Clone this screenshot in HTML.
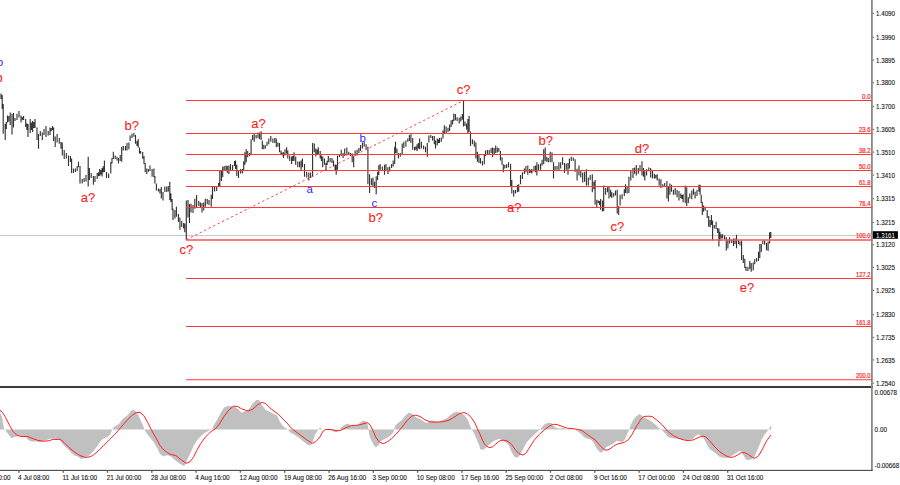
<!DOCTYPE html>
<html lang="en"><head><meta charset="utf-8"><title>GBP/USD wave analysis chart</title>
<style>html,body{margin:0;padding:0;background:#fff}body{width:900px;height:485px;overflow:hidden}</style></head>
<body>
<svg width="900" height="485" viewBox="0 0 900 485" style="display:block" font-family="'Liberation Sans', sans-serif">
<rect width="900" height="485" fill="#fff"/>
<rect x="0" y="386.0" width="873.0" height="2" fill="#3c3c3c"/>
<rect x="871.0" y="0" width="1.8" height="470.0" fill="#8a8a8a"/>
<line x1="0" y1="235.5" x2="872.0" y2="235.5" stroke="#c8c8c8" stroke-width="1"/>
<path d="M1.0 93.5V99.0M2.2 95.0V109.0M3.2 104.0V133.7M5.2 123.7V140.0M6.3 122.0V128.9M7.5 115.6V122.5M8.8 116.0V121.8M10.2 112.5V125.0M12.0 113.7V134.4M13.5 113.0V127.5M15.0 118.0V121.0M17.0 113.7V120.0M19.0 111.0V117.5M21.0 115.6V122.5M22.3 116.9V120.2M23.6 116.0V120.0M25.7 119.0V127.0M26.9 123.6V129.9M28.0 124.0V137.0M30.2 119.0V133.0M31.4 122.5V130.0M32.6 121.0V132.0M33.8 122.0V128.0M35.0 119.0V128.0M37.0 127.5V140.0M38.5 134.0V148.7M40.3 131.0V136.0M42.3 132.5V140.0M44.0 129.0V135.0M46.0 126.0V137.0M48.2 131.0V135.6M50.0 127.5V135.0M51.2 127.9V131.3M52.5 126.0V130.0M53.6 127.5V141.0M55.2 136.5V147.0M57.1 134.0V142.5M59.3 138.0V143.7M61.0 142.0V148.7M62.3 142.5V155.5M64.2 150.0V159.0M66.3 153.0V158.6M68.5 155.5V166.0M70.4 156.0V162.0M71.6 158.6V173.0M73.5 168.5V173.0M75.4 168.5V172.0M77.2 166.0V171.0M78.5 161.7V167.3M80.0 166.0V183.5M82.2 179.0V183.5M84.1 178.0V182.0M86.0 175.0V181.6M88.2 156.7V186.6M89.4 168.0V180.0M91.2 173.0V178.0M93.4 176.0V184.7M95.0 176.0V182.0M97.2 173.0V179.0M98.5 172.3V176.2M99.7 169.0V176.0M100.9 170.1V174.7M102.1 168.0V176.6M103.2 166.3V172.3M104.4 160.5V172.0M106.5 172.0V178.0M108.6 173.5V178.0M110.8 162.0V173.5M112.0 158.0V163.6M113.3 151.8V159.0M115.2 155.5V159.0M117.0 156.7V160.5M118.5 158.0V163.6M120.2 155.0V161.0M121.7 146.8V161.7M123.3 146.0V150.5M125.5 146.0V150.5M127.0 143.0V150.5M128.9 142.4V149.3M130.1 135.6V141.0M132.0 133.7V138.0M133.9 133.0V136.8M135.5 135.0V143.7M137.0 141.0V146.0M138.2 139.0V147.4M139.5 147.4V153.6M140.6 151.0V153.7M142.7 152.0V158.7M144.0 156.0V164.0M145.2 163.0V172.3M146.8 168.6V174.0M148.4 169.0V171.7M150.0 165.5V171.0M152.1 169.0V176.7M153.9 168.6V177.3M154.9 176.0V183.5M156.4 183.5V190.4M158.4 188.5V191.6M159.9 189.0V193.5M161.3 187.0V198.5M163.0 192.0V200.6M164.8 186.6V192.0M166.7 186.6V192.0M168.3 186.0V191.6M169.8 181.7V200.0M170.9 193.3V202.1M172.1 199.0V210.0M173.0 208.7V220.0M174.9 210.0V218.6M176.4 206.8V216.7M178.4 214.0V222.0M179.9 217.4V229.8M181.7 221.0V227.0M183.6 223.0V228.6M184.8 223.6V232.3M186.3 200.6V239.7M188.0 200.0V217.4M189.5 204.0V223.0M191.0 203.7V212.4M193.0 205.0V213.0M194.8 198.7V208.7M196.6 195.0V207.4M198.8 201.0V206.0M200.4 202.4V207.4M202.0 203.0V212.4M203.7 202.4V210.5M205.3 198.7V206.8M207.2 199.0V204.3M209.0 200.0V205.0M211.2 194.7V206.8M212.5 187.0V199.0M214.6 186.0V191.6M216.7 186.6V191.0M218.6 183.0V187.0M219.8 170.5V186.6M221.4 170.0V181.0M222.7 166.7V177.3M224.2 166.0V170.5M226.0 165.5V170.5M227.3 166.0V173.0M228.9 165.5V174.0M230.5 164.0V171.0M232.6 165.0V170.5M234.5 161.0V166.0M235.6 160.4V169.0M236.8 164.7V176.0M238.5 171.0V178.0M240.6 169.0V173.5M242.4 169.0V173.5M243.7 161.6V171.0M244.9 152.3V164.7M246.2 149.2V162.3M247.7 151.0V157.3M249.6 153.0V156.0M251.1 139.2V154.8M252.6 135.0V140.0M254.2 133.0V141.7M256.1 135.0V138.6M258.0 132.4V138.0M259.6 132.4V139.2M261.1 131.2V139.9M262.3 140.5V149.2M263.8 144.8V149.2M265.4 145.5V148.6M267.0 141.7V146.0M268.8 138.6V144.2M270.8 136.0V141.7M272.9 138.6V143.0M274.8 138.0V143.0M276.3 138.6V147.3M277.9 142.4V146.7M279.5 143.0V152.3M281.0 150.4V154.8M282.2 152.4V155.4M283.5 152.3V158.0M285.0 149.2V155.4M286.6 147.3V153.5M287.8 150.4V158.5M289.7 155.4V161.0M291.6 156.6V164.0M292.8 156.1V160.9M294.0 152.3V161.0M295.7 156.6V164.7M297.8 161.6V167.2M299.6 161.6V167.2M301.1 160.4V170.3M302.4 158.5V167.2M304.5 164.0V176.8M306.7 171.8V177.4M308.8 172.4V180.5M310.6 172.4V178.0M312.6 143.0V176.8M314.3 143.6V152.3M315.8 148.6V156.6M317.1 149.5V154.1M318.3 147.3V154.8M320.2 151.0V158.5M321.4 155.6V161.0M322.7 156.6V167.2M324.5 158.5V164.7M326.0 162.9V170.5M327.1 160.8V165.0M328.3 156.0V162.3M330.1 157.9V162.3M332.0 157.9V163.0M333.5 160.4V166.6M335.1 164.7V170.3M336.2 164.8V174.7M337.5 155.4V169.8M339.4 154.2V157.3M341.2 149.8V156.0M343.1 153.0V158.0M344.7 148.6V156.0M346.8 147.4V155.4M348.7 151.7V154.8M350.5 153.0V156.0M352.2 153.6V162.3M353.7 156.0V167.3M355.1 150.5V156.0M357.1 149.8V155.4M358.9 148.0V153.0M360.5 144.9V151.0M362.4 142.4V148.6M364.2 141.8V146.7M366.1 144.2V149.2M367.9 146.7V184.2M369.6 174.3V193.0M371.5 178.6V185.0M373.0 177.4V186.7M374.6 181.8V188.0M376.2 176.2V194.2M377.6 171.8V180.0M378.8 165.2V175.0M380.2 164.0V169.8M382.3 166.6V171.0M384.5 164.8V174.7M386.0 164.0V171.0M387.9 167.3V174.0M389.7 166.6V171.6M391.6 164.0V167.9M393.2 160.4V166.6M394.7 146.7V164.0M395.5 141.8V153.0M396.9 148.6V153.6M398.4 153.0V158.6M400.3 153.0V156.7M402.2 143.6V154.8M403.8 141.8V148.0M405.9 140.5V146.7M407.8 138.6V141.8M409.4 135.0V141.0M410.9 134.3V143.0M412.7 138.0V149.8M414.6 146.7V150.5M415.9 146.5V149.7M417.1 144.2V151.0M418.4 143.1V148.4M419.6 138.6V149.2M421.4 141.8V148.6M423.6 145.5V149.2M425.5 146.7V152.3M427.3 143.0V156.7M428.9 135.5V142.4M430.8 135.0V138.0M432.6 136.0V140.5M434.3 136.0V144.2M435.5 140.5V148.6M437.2 138.6V145.5M438.4 139.5V143.1M439.5 138.0V143.0M441.3 137.4V141.8M443.0 130.4V138.6M444.3 125.3V133.3M446.1 126.5V134.0M448.0 127.8V132.0M449.6 124.6V130.9M451.1 120.3V127.0M452.6 119.7V124.6M453.8 113.4V121.0M455.4 114.0V120.3M457.1 117.2V121.0M459.2 117.8V123.4M460.8 116.6V121.5M462.3 114.0V119.7M463.5 100.6V126.5M465.0 121.5V125.9M466.6 123.4V129.6M467.9 119.0V134.0M469.1 116.0V132.0M470.5 131.6V146.0M472.4 139.3V144.3M474.3 140.5V146.8M475.9 142.4V158.6M477.4 151.7V161.7M478.9 154.9V163.0M480.5 158.0V163.6M482.4 161.0V165.4M484.3 154.2V164.2M485.5 150.5V156.0M487.4 149.9V154.9M489.2 149.9V154.2M491.1 148.0V153.0M492.6 147.4V157.3M494.2 148.0V154.9M495.7 145.5V153.0M497.3 147.4V152.4M498.8 148.0V151.7M500.4 151.0V160.4M502.0 157.3V164.8M503.3 164.2V172.3M504.8 164.8V168.5M506.6 164.2V168.0M508.5 162.3V167.3M510.6 163.7V186.7M511.8 180.0V193.6M513.7 189.9V196.7M515.5 189.9V193.6M517.4 184.9V192.3M518.7 184.3V191.7M520.5 175.0V184.3M522.4 172.3V179.0M524.4 168.5V174.0M525.9 166.0V172.3M527.8 165.4V174.7M529.6 169.0V173.0M530.8 169.8V172.4M531.9 169.0V173.5M534.0 166.0V171.6M535.6 165.4V172.3M536.9 162.3V175.4M538.6 164.2V170.4M540.6 163.6V169.8M542.1 159.8V165.4M543.7 149.2V164.2M545.2 147.4V161.0M546.8 156.7V161.7M548.3 158.0V162.3M550.2 151.7V162.3M552.0 152.4V162.3M553.5 162.3V178.5M555.1 166.0V170.4M557.0 166.0V169.8M558.9 162.3V171.0M560.7 162.3V168.5M562.6 157.3V164.8M564.5 163.0V173.0M566.3 163.6V169.8M568.0 163.0V174.7M569.4 158.6V168.5M571.3 156.7V161.0M573.3 157.4V160.8M575.1 159.3V171.7M577.1 168.7V180.5M579.0 165.6V175.5M580.8 170.6V177.4M582.7 172.4V182.4M584.6 171.8V181.8M586.4 169.3V185.5M588.3 177.4V185.5M590.2 175.0V180.0M592.3 174.3V192.3M593.9 181.8V189.2M595.1 180.0V204.8M596.8 199.8V207.3M598.3 200.4V203.0M599.5 201.0V205.0M600.6 199.0V209.7M602.5 200.4V211.6M603.7 185.5V211.0M605.6 188.0V194.8M607.5 187.3V192.3M609.0 186.7V198.5M610.6 189.8V196.7M611.8 192.3V198.0M613.7 193.0V196.7M615.5 190.4V195.4M617.2 189.8V213.5M618.7 206.0V215.0M620.1 194.8V205.4M622.1 194.2V199.2M624.3 189.2V196.0M625.5 184.2V193.0M627.1 186.7V193.6M628.9 176.8V193.0M630.8 170.5V180.5M633.0 168.0V178.0M634.6 167.4V173.7M636.3 165.0V175.5M638.3 168.0V173.7M640.0 165.0V171.2M642.0 161.2V175.5M643.5 168.0V176.8M644.8 171.2V180.5M646.6 169.3V175.5M648.8 167.4V171.2M650.7 168.0V177.4M652.5 170.5V178.6M654.4 173.7V178.6M655.8 175.1V178.4M657.2 174.3V180.5M659.1 178.6V185.5M660.9 179.2V188.0M662.8 184.2V187.3M664.7 183.0V186.7M666.9 181.0V198.5M668.4 186.0V201.6M669.9 183.6V194.8M671.5 184.8V191.7M673.4 189.8V194.8M675.2 188.0V194.8M677.1 189.8V197.3M679.0 191.0V200.4M680.8 193.6V198.0M682.0 195.1V198.9M683.1 194.2V202.3M685.2 185.5V203.0M686.7 187.3V206.0M688.3 197.3V203.0M689.8 193.6V198.5M691.8 190.4V199.2M693.5 188.6V194.8M695.1 191.7V198.5M697.0 189.8V196.0M698.9 184.8V191.7M700.1 184.8V194.8M701.2 194.8V203.0M702.3 202.0V214.9M703.6 205.6V211.8M705.2 206.8V210.5M707.2 210.0V218.0M708.7 216.0V226.7M710.1 220.0V227.3M711.4 215.0V224.9M712.6 220.5V240.4M714.3 224.9V228.6M716.1 221.7V229.2M717.6 228.0V233.0M718.9 228.6V246.4M719.9 231.7V241.0M721.2 234.3V238.4M722.6 234.2V238.5M724.6 235.4V239.2M726.3 237.3V250.4M727.9 239.8V248.6M729.6 237.3V243.5M731.7 239.8V243.0M733.5 238.5V246.1M735.0 238.5V244.0M736.5 234.8V248.3M738.5 239.8V244.0M740.0 241.6V245.4M741.6 240.4V260.0M743.3 255.0V263.0M744.8 258.7V268.0M746.0 266.7V271.0M747.9 266.7V271.0M749.8 261.0V269.2M751.2 263.0V271.7M753.2 262.4V270.5M754.7 259.3V264.3M756.6 258.0V261.8M758.5 251.8V261.0M759.8 244.0V258.0M761.3 244.0V252.0M762.8 240.4V244.0M764.6 240.4V244.8M766.5 242.9V250.3M768.1 241.6V251.0M769.6 232.3V243.5M770.8 232.0V238.0" stroke="#303030" stroke-width="1.12" fill="none"/>
<line x1="186" y1="100.55" x2="872.2" y2="100.55" stroke="#ff3838" stroke-width="1.05"/>
<line x1="186" y1="133.45" x2="872.2" y2="133.45" stroke="#ff3838" stroke-width="1.05"/>
<line x1="186" y1="154.4" x2="872.2" y2="154.4" stroke="#ff3838" stroke-width="1.05"/>
<line x1="186" y1="170.45" x2="872.2" y2="170.45" stroke="#ff3838" stroke-width="1.05"/>
<line x1="186" y1="186.5" x2="872.2" y2="186.5" stroke="#ff3838" stroke-width="1.05"/>
<line x1="186" y1="207.4" x2="872.2" y2="207.4" stroke="#ff3838" stroke-width="1.05"/>
<line x1="186" y1="240.0" x2="872.2" y2="240.0" stroke="#ff5050" stroke-width="1.3"/>
<line x1="186" y1="278.4" x2="872.2" y2="278.4" stroke="#ff3838" stroke-width="1.05"/>
<line x1="186" y1="326.4" x2="872.2" y2="326.4" stroke="#ff3838" stroke-width="1.05"/>
<line x1="186" y1="379.8" x2="872.2" y2="379.8" stroke="#ff3838" stroke-width="1.05"/>
<line x1="186.3" y1="239.7" x2="463.5" y2="100.6" stroke="#ff3c3c" stroke-width="0.95" stroke-dasharray="2.3 2.7"/>
<text x="80.7" y="201.5" font-size="13" fill="#ff1a1a" text-anchor="start" stroke="#ff1a1a" stroke-width="0.1">a?</text>
<text x="124.6" y="129.8" font-size="13" fill="#ff1a1a" text-anchor="start" stroke="#ff1a1a" stroke-width="0.1">b?</text>
<text x="179.6" y="254.1" font-size="13" fill="#ff1a1a" text-anchor="start" stroke="#ff1a1a" stroke-width="0.1">c?</text>
<text x="251.2" y="128.0" font-size="13" fill="#ff1a1a" text-anchor="start" stroke="#ff1a1a" stroke-width="0.1">a?</text>
<text x="368.5" y="221.6" font-size="13" fill="#ff1a1a" text-anchor="start" stroke="#ff1a1a" stroke-width="0.1">b?</text>
<text x="456.7" y="94.3" font-size="13" fill="#ff1a1a" text-anchor="start" stroke="#ff1a1a" stroke-width="0.1">c?</text>
<text x="507.1" y="212.4" font-size="13" fill="#ff1a1a" text-anchor="start" stroke="#ff1a1a" stroke-width="0.1">a?</text>
<text x="538.5" y="145.0" font-size="13" fill="#ff1a1a" text-anchor="start" stroke="#ff1a1a" stroke-width="0.1">b?</text>
<text x="610.4" y="230.7" font-size="13" fill="#ff1a1a" text-anchor="start" stroke="#ff1a1a" stroke-width="0.1">c?</text>
<text x="634.8" y="153.1" font-size="13" fill="#ff1a1a" text-anchor="start" stroke="#ff1a1a" stroke-width="0.1">d?</text>
<text x="739.8" y="292.4" font-size="13" fill="#ff1a1a" text-anchor="start" stroke="#ff1a1a" stroke-width="0.1">e?</text>
<text x="306.6" y="193.2" font-size="11.5" fill="#2a2aff" text-anchor="start">a</text>
<text x="359.6" y="141.9" font-size="11.5" fill="#2a2aff" text-anchor="start">b</text>
<text x="371.5" y="207.2" font-size="11.5" fill="#2a2aff" text-anchor="start">c</text>
<text x="-3.2" y="66.2" font-size="11.5" fill="#2a2aff" text-anchor="start">b</text>
<text x="-4.6" y="81.8" font-size="13" fill="#ff1a1a" text-anchor="start">b</text>
<rect x="0" y="469.85" width="872.8" height="1.05" fill="#404040"/>
<path d="M0.0 429.6L0.0 412.8L1.9 416.5L3.7 426.8L4.6 429.5L5.6 430.5L8.3 434.2L11.1 437.9L14.8 437.0L18.6 436.0L26.0 437.0L27.8 439.7L31.5 441.6L37.1 441.6L39.9 442.2L44.5 440.7L50.1 438.8L55.7 438.8L59.4 439.7L63.1 444.4L66.8 448.1L70.5 451.8L74.2 455.5L77.9 456.4L81.6 459.2L85.4 457.4L89.1 455.5L92.8 451.8L96.5 447.2L100.2 441.6L103.0 438.8L107.6 437.0L110.4 434.2L112.3 429.5L114.1 426.8L118.8 424.0L122.5 419.3L128.0 414.7L130.8 411.0L133.6 409.5L137.3 412.8L140.1 419.3L142.9 424.9L144.4 429.5L146.6 433.2L150.3 437.9L154.0 442.5L157.7 449.0L160.0 454.0L163.7 456.4L166.5 455.0L171.1 456.4L174.8 460.1L178.6 462.9L184.1 466.3L186.0 462.9L187.8 458.3L190.6 452.7L193.4 446.2L196.2 441.6L199.9 437.0L204.5 432.9L209.2 430.5L212.0 429.5L212.9 426.8L215.7 422.1L218.4 417.5L221.2 411.9L224.0 407.6L226.8 406.3L230.5 406.0L234.2 406.3L237.9 409.1L241.6 412.8L245.4 411.0L249.1 409.1L252.8 403.6L256.5 399.8L259.3 400.2L262.1 405.4L265.8 410.1L271.3 412.8L276.9 415.6L279.7 421.2L282.5 425.8L286.2 428.6L288.0 429.5L289.9 432.3L293.6 434.2L299.2 437.9L304.7 442.5L308.4 445.3L311.2 445.3L313.1 440.7L314.9 435.1L317.7 430.5L318.6 429.5L320.0 427.3L321.9 429.5L327.4 429.7L331.1 430.5L335.8 432.3L337.6 431.4L338.6 429.5L340.4 428.0L344.1 424.9L347.8 423.6L350.6 424.9L353.4 426.2L357.1 425.5L360.8 422.1L364.5 420.6L367.3 423.0L368.6 429.5L369.2 435.1L371.0 439.7L373.8 445.3L375.7 447.2L378.4 445.3L380.3 441.6L383.1 439.7L386.8 437.9L390.5 435.5L393.3 432.3L394.2 429.5L395.1 425.8L397.9 423.0L401.6 420.3L405.4 415.6L409.1 412.5L411.9 413.8L414.6 416.5L418.3 418.4L422.1 420.3L425.8 423.0L428.6 422.1L431.3 420.3L435.0 421.2L438.8 422.1L442.5 420.3L446.2 418.4L449.9 415.6L453.6 412.5L457.3 411.9L461.0 412.8L464.7 415.6L467.5 419.3L469.4 424.0L471.2 428.6L471.8 429.5L474.0 433.2L476.8 439.7L479.6 446.2L480.0 449.0L482.8 449.9L485.6 448.1L489.3 444.4L493.0 441.6L496.7 439.7L499.5 438.8L502.3 440.7L506.0 442.5L508.8 445.3L511.5 451.8L514.3 456.4L516.2 457.7L519.0 456.4L521.8 451.8L524.5 446.2L527.3 441.6L530.1 438.8L533.8 435.1L537.5 431.4L540.3 429.5L542.2 426.8L544.9 424.0L548.7 422.7L551.4 423.0L553.3 425.8L556.1 428.0L559.8 428.6L563.5 428.0L567.2 429.5L569.1 430.5L571.9 428.6L574.6 429.5L576.5 430.5L580.2 433.2L583.9 437.0L587.6 438.8L591.3 439.7L594.1 443.4L596.9 449.0L600.6 452.7L603.4 450.9L606.2 447.2L609.9 445.3L613.6 443.4L616.4 440.7L619.2 441.6L622.0 442.5L624.7 439.7L627.5 433.2L629.4 429.5L630.7 424.9L633.1 420.3L635.9 416.5L639.2 414.3L640.0 414.3L642.8 416.5L646.5 418.4L651.1 421.2L654.8 424.0L658.6 427.7L660.4 429.5L662.3 430.5L666.0 434.2L667.8 437.0L671.5 437.9L677.1 438.8L682.7 439.7L688.2 440.7L692.9 438.8L695.7 436.0L698.5 434.2L701.2 436.0L704.0 438.8L706.8 444.4L709.6 449.0L713.3 451.8L717.0 454.6L719.8 457.0L723.5 457.7L727.2 457.9L730.9 456.4L734.6 454.0L738.3 451.8L741.1 450.9L743.0 454.6L745.8 459.2L748.5 460.1L751.3 459.2L754.1 457.4L756.9 450.9L759.7 444.4L761.5 439.7L764.3 435.1L767.1 431.4L768.6 429.5L769.5 427.7L770.8 425.5L771.2 425.5L771.2 429.6Z" fill="#c0c0c0"/>
<path d="M0.0 410.1L2.8 412.8L5.6 417.5L9.3 424.9L13.0 431.4L16.7 435.1L20.4 436.4L27.8 436.6L33.4 438.8L39.0 440.7L44.5 441.2L49.2 440.7L52.9 439.4L60.3 439.4L64.0 442.5L68.7 447.2L74.2 451.8L79.8 455.5L85.4 457.4L89.1 457.0L92.8 455.5L98.3 450.9L103.9 445.3L109.5 439.7L115.0 434.2L120.6 427.7L126.2 421.2L131.7 415.6L136.4 412.5L140.1 412.5L143.8 415.6L147.5 422.1L151.2 429.5L155.9 437.9L160.0 445.3L163.7 449.9L167.4 452.7L171.1 454.6L175.8 455.5L180.4 459.2L186.0 463.3L189.7 462.0L193.4 457.4L197.1 449.9L200.8 443.4L205.5 437.0L210.1 432.3L215.7 428.6L219.4 424.0L224.0 416.5L228.7 410.1L233.3 406.3L237.0 406.3L241.6 408.8L248.1 411.0L252.8 409.1L257.4 405.0L262.1 402.3L265.8 403.6L271.3 409.1L278.8 414.7L286.2 422.1L291.7 428.6L299.2 434.2L306.6 439.7L312.2 443.4L315.9 441.6L320.0 437.0L322.8 431.4L325.6 429.5L331.1 429.5L335.8 430.8L340.4 430.5L346.0 427.7L351.5 425.5L357.1 425.3L362.7 424.0L367.3 422.7L370.1 424.9L372.9 430.5L375.7 437.0L379.4 442.2L383.1 443.6L386.8 442.2L391.4 438.8L396.1 434.2L401.6 427.7L407.2 420.3L411.9 416.0L415.6 415.2L420.2 416.5L425.8 420.3L431.3 422.1L436.9 422.1L442.5 421.6L448.0 420.6L453.6 417.5L459.2 413.8L463.8 412.5L467.5 413.8L471.2 417.5L474.9 423.0L478.6 431.4L480.0 434.2L481.9 438.8L484.6 444.4L488.4 447.5L492.1 447.2L495.8 444.0L499.5 441.0L503.2 440.1L507.8 441.2L511.5 444.4L515.3 449.6L519.0 453.7L522.7 455.0L525.5 453.7L529.2 448.1L533.8 440.7L539.4 434.2L544.9 429.5L549.6 425.8L553.3 424.3L557.0 424.5L561.6 426.2L567.2 428.2L572.8 428.6L578.3 429.5L582.1 430.5L586.7 434.2L591.3 437.3L595.0 439.7L599.7 445.3L603.4 449.0L606.2 450.3L609.9 449.0L613.6 446.2L617.3 444.0L621.0 443.4L624.7 442.2L628.4 439.7L632.2 434.2L636.8 425.8L639.6 421.7L640.0 420.3L643.7 416.5L648.4 416.2L652.1 416.5L656.7 419.9L662.3 424.9L667.8 431.4L673.4 435.7L679.0 438.4L684.5 440.1L689.2 440.7L693.8 439.7L699.4 437.0L703.1 436.0L705.9 437.0L709.6 440.7L714.2 446.2L719.8 451.8L725.4 455.5L730.0 457.4L733.7 457.0L737.4 455.1L741.1 452.7L744.8 452.7L748.5 454.6L752.3 457.4L755.0 458.3L758.8 455.5L762.5 449.0L766.2 441.6L770.8 435.1" fill="none" stroke="#ff2020" stroke-width="1" stroke-linejoin="round"/>
<rect x="872.8" y="12.9" width="1.3" height="1" fill="#555"/>
<text x="876" y="15.9" font-size="7" fill="#161616" text-anchor="start" textLength="19" lengthAdjust="spacingAndGlyphs" stroke="#161616" stroke-width="0.12">1.4090</text>
<rect x="872.8" y="36.8" width="1.3" height="1" fill="#555"/>
<text x="876" y="39.8" font-size="7" fill="#161616" text-anchor="start" textLength="19" lengthAdjust="spacingAndGlyphs" stroke="#161616" stroke-width="0.12">1.3990</text>
<rect x="872.8" y="59.5" width="1.3" height="1" fill="#555"/>
<text x="876" y="62.5" font-size="7" fill="#161616" text-anchor="start" textLength="19" lengthAdjust="spacingAndGlyphs" stroke="#161616" stroke-width="0.12">1.3895</text>
<rect x="872.8" y="82.2" width="1.3" height="1" fill="#555"/>
<text x="876" y="85.2" font-size="7" fill="#161616" text-anchor="start" textLength="19" lengthAdjust="spacingAndGlyphs" stroke="#161616" stroke-width="0.12">1.3800</text>
<rect x="872.8" y="106.1" width="1.3" height="1" fill="#555"/>
<text x="876" y="109.1" font-size="7" fill="#161616" text-anchor="start" textLength="19" lengthAdjust="spacingAndGlyphs" stroke="#161616" stroke-width="0.12">1.3700</text>
<rect x="872.8" y="128.9" width="1.3" height="1" fill="#555"/>
<text x="876" y="131.9" font-size="7" fill="#161616" text-anchor="start" textLength="19" lengthAdjust="spacingAndGlyphs" stroke="#161616" stroke-width="0.12">1.3605</text>
<rect x="872.8" y="151.6" width="1.3" height="1" fill="#555"/>
<text x="876" y="154.6" font-size="7" fill="#161616" text-anchor="start" textLength="19" lengthAdjust="spacingAndGlyphs" stroke="#161616" stroke-width="0.12">1.3510</text>
<rect x="872.8" y="174.6" width="1.3" height="1" fill="#555"/>
<text x="876" y="177.6" font-size="7" fill="#161616" text-anchor="start" textLength="19" lengthAdjust="spacingAndGlyphs" stroke="#161616" stroke-width="0.12">1.3410</text>
<rect x="872.8" y="198.2" width="1.3" height="1" fill="#555"/>
<text x="876" y="201.2" font-size="7" fill="#161616" text-anchor="start" textLength="19" lengthAdjust="spacingAndGlyphs" stroke="#161616" stroke-width="0.12">1.3315</text>
<rect x="872.8" y="222.1" width="1.3" height="1" fill="#555"/>
<text x="876" y="225.1" font-size="7" fill="#161616" text-anchor="start" textLength="19" lengthAdjust="spacingAndGlyphs" stroke="#161616" stroke-width="0.12">1.3215</text>
<rect x="872.8" y="244.3" width="1.3" height="1" fill="#555"/>
<text x="876" y="247.3" font-size="7" fill="#161616" text-anchor="start" textLength="19" lengthAdjust="spacingAndGlyphs" stroke="#161616" stroke-width="0.12">1.3120</text>
<rect x="872.8" y="266.8" width="1.3" height="1" fill="#555"/>
<text x="876" y="269.8" font-size="7" fill="#161616" text-anchor="start" textLength="19" lengthAdjust="spacingAndGlyphs" stroke="#161616" stroke-width="0.12">1.3025</text>
<rect x="872.8" y="290.0" width="1.3" height="1" fill="#555"/>
<text x="876" y="293.0" font-size="7" fill="#161616" text-anchor="start" textLength="19" lengthAdjust="spacingAndGlyphs" stroke="#161616" stroke-width="0.12">1.2925</text>
<rect x="872.8" y="314.2" width="1.3" height="1" fill="#555"/>
<text x="876" y="317.2" font-size="7" fill="#161616" text-anchor="start" textLength="19" lengthAdjust="spacingAndGlyphs" stroke="#161616" stroke-width="0.12">1.2830</text>
<rect x="872.8" y="336.9" width="1.3" height="1" fill="#555"/>
<text x="876" y="339.9" font-size="7" fill="#161616" text-anchor="start" textLength="19" lengthAdjust="spacingAndGlyphs" stroke="#161616" stroke-width="0.12">1.2735</text>
<rect x="872.8" y="359.5" width="1.3" height="1" fill="#555"/>
<text x="876" y="362.5" font-size="7" fill="#161616" text-anchor="start" textLength="19" lengthAdjust="spacingAndGlyphs" stroke="#161616" stroke-width="0.12">1.2635</text>
<rect x="872.8" y="382.6" width="1.3" height="1" fill="#555"/>
<text x="876" y="385.6" font-size="7" fill="#161616" text-anchor="start" textLength="19" lengthAdjust="spacingAndGlyphs" stroke="#161616" stroke-width="0.12">1.2540</text>
<text x="874.6" y="394.6" font-size="7" fill="#161616" text-anchor="start" textLength="22.4" lengthAdjust="spacingAndGlyphs" stroke="#161616" stroke-width="0.12">0.00678</text>
<text x="874.6" y="432.2" font-size="7" fill="#161616" text-anchor="start" textLength="12.4" lengthAdjust="spacingAndGlyphs" stroke="#161616" stroke-width="0.12">0.00</text>
<text x="874.6" y="468.3" font-size="7" fill="#161616" text-anchor="start" textLength="24.6" lengthAdjust="spacingAndGlyphs" stroke="#161616" stroke-width="0.12">-0.00668</text>
<text x="870.6" y="99.0" font-size="6.9" fill="#ff2626" text-anchor="end" textLength="8.6" lengthAdjust="spacingAndGlyphs" stroke="#ff2626" stroke-width="0.22">0.0</text>
<text x="870.6" y="131.9" font-size="6.9" fill="#ff2626" text-anchor="end" textLength="11.6" lengthAdjust="spacingAndGlyphs" stroke="#ff2626" stroke-width="0.22">23.6</text>
<text x="870.6" y="152.8" font-size="6.9" fill="#ff2626" text-anchor="end" textLength="11.6" lengthAdjust="spacingAndGlyphs" stroke="#ff2626" stroke-width="0.22">38.2</text>
<text x="870.6" y="168.9" font-size="6.9" fill="#ff2626" text-anchor="end" textLength="11.6" lengthAdjust="spacingAndGlyphs" stroke="#ff2626" stroke-width="0.22">50.0</text>
<text x="870.6" y="184.9" font-size="6.9" fill="#ff2626" text-anchor="end" textLength="11.6" lengthAdjust="spacingAndGlyphs" stroke="#ff2626" stroke-width="0.22">61.8</text>
<text x="870.6" y="205.8" font-size="6.9" fill="#ff2626" text-anchor="end" textLength="11.6" lengthAdjust="spacingAndGlyphs" stroke="#ff2626" stroke-width="0.22">76.4</text>
<text x="870.6" y="238.4" font-size="6.9" fill="#ff2626" text-anchor="end" textLength="14.6" lengthAdjust="spacingAndGlyphs" stroke="#ff2626" stroke-width="0.22">100.0</text>
<text x="870.6" y="276.8" font-size="6.9" fill="#ff2626" text-anchor="end" textLength="14.6" lengthAdjust="spacingAndGlyphs" stroke="#ff2626" stroke-width="0.22">127.2</text>
<text x="870.6" y="324.8" font-size="6.9" fill="#ff2626" text-anchor="end" textLength="14.6" lengthAdjust="spacingAndGlyphs" stroke="#ff2626" stroke-width="0.22">161.8</text>
<text x="870.6" y="378.2" font-size="6.9" fill="#ff2626" text-anchor="end" textLength="14.6" lengthAdjust="spacingAndGlyphs" stroke="#ff2626" stroke-width="0.22">200.0</text>
<rect x="872.9" y="231.2" width="25" height="7.6" fill="#000"/>
<text x="876" y="238" font-size="7" fill="#fff" text-anchor="start" textLength="19" lengthAdjust="spacingAndGlyphs">1.3161</text>
<rect x="-26.1" y="470.4" width="1.4" height="2.4" fill="#666"/>
<text x="-26.2" y="479.5" font-size="7.2" fill="#161616" text-anchor="start" textLength="36.8" lengthAdjust="spacingAndGlyphs" stroke="#161616" stroke-width="0.12">26 Jun 00:00</text>
<rect x="18.2" y="470.4" width="1.4" height="2.4" fill="#666"/>
<text x="18.1" y="479.5" font-size="7.2" fill="#161616" text-anchor="start" textLength="31.2" lengthAdjust="spacingAndGlyphs" stroke="#161616" stroke-width="0.12">4 Jul 08:00</text>
<rect x="62.5" y="470.4" width="1.4" height="2.4" fill="#666"/>
<text x="62.4" y="479.5" font-size="7.2" fill="#161616" text-anchor="start" textLength="34.7" lengthAdjust="spacingAndGlyphs" stroke="#161616" stroke-width="0.12">11 Jul 16:00</text>
<rect x="106.8" y="470.4" width="1.4" height="2.4" fill="#666"/>
<text x="106.7" y="479.5" font-size="7.2" fill="#161616" text-anchor="start" textLength="34.7" lengthAdjust="spacingAndGlyphs" stroke="#161616" stroke-width="0.12">21 Jul 00:00</text>
<rect x="151.1" y="470.4" width="1.4" height="2.4" fill="#666"/>
<text x="151.0" y="479.5" font-size="7.2" fill="#161616" text-anchor="start" textLength="34.7" lengthAdjust="spacingAndGlyphs" stroke="#161616" stroke-width="0.12">28 Jul 08:00</text>
<rect x="195.4" y="470.4" width="1.4" height="2.4" fill="#666"/>
<text x="195.3" y="479.5" font-size="7.2" fill="#161616" text-anchor="start" textLength="34.4" lengthAdjust="spacingAndGlyphs" stroke="#161616" stroke-width="0.12">4 Aug 16:00</text>
<rect x="239.7" y="470.4" width="1.4" height="2.4" fill="#666"/>
<text x="239.6" y="479.5" font-size="7.2" fill="#161616" text-anchor="start" textLength="37.9" lengthAdjust="spacingAndGlyphs" stroke="#161616" stroke-width="0.12">12 Aug 00:00</text>
<rect x="284.0" y="470.4" width="1.4" height="2.4" fill="#666"/>
<text x="283.9" y="479.5" font-size="7.2" fill="#161616" text-anchor="start" textLength="37.9" lengthAdjust="spacingAndGlyphs" stroke="#161616" stroke-width="0.12">19 Aug 08:00</text>
<rect x="328.3" y="470.4" width="1.4" height="2.4" fill="#666"/>
<text x="328.2" y="479.5" font-size="7.2" fill="#161616" text-anchor="start" textLength="37.9" lengthAdjust="spacingAndGlyphs" stroke="#161616" stroke-width="0.12">26 Aug 16:00</text>
<rect x="372.6" y="470.4" width="1.4" height="2.4" fill="#666"/>
<text x="372.5" y="479.5" font-size="7.2" fill="#161616" text-anchor="start" textLength="34.4" lengthAdjust="spacingAndGlyphs" stroke="#161616" stroke-width="0.12">3 Sep 00:00</text>
<rect x="416.9" y="470.4" width="1.4" height="2.4" fill="#666"/>
<text x="416.8" y="479.5" font-size="7.2" fill="#161616" text-anchor="start" textLength="37.9" lengthAdjust="spacingAndGlyphs" stroke="#161616" stroke-width="0.12">10 Sep 08:00</text>
<rect x="461.2" y="470.4" width="1.4" height="2.4" fill="#666"/>
<text x="461.1" y="479.5" font-size="7.2" fill="#161616" text-anchor="start" textLength="37.9" lengthAdjust="spacingAndGlyphs" stroke="#161616" stroke-width="0.12">17 Sep 16:00</text>
<rect x="505.5" y="470.4" width="1.4" height="2.4" fill="#666"/>
<text x="505.4" y="479.5" font-size="7.2" fill="#161616" text-anchor="start" textLength="37.9" lengthAdjust="spacingAndGlyphs" stroke="#161616" stroke-width="0.12">25 Sep 00:00</text>
<rect x="549.8" y="470.4" width="1.4" height="2.4" fill="#666"/>
<text x="549.7" y="479.5" font-size="7.2" fill="#161616" text-anchor="start" textLength="32.9" lengthAdjust="spacingAndGlyphs" stroke="#161616" stroke-width="0.12">2 Oct 08:00</text>
<rect x="594.1" y="470.4" width="1.4" height="2.4" fill="#666"/>
<text x="594.0" y="479.5" font-size="7.2" fill="#161616" text-anchor="start" textLength="32.9" lengthAdjust="spacingAndGlyphs" stroke="#161616" stroke-width="0.12">9 Oct 16:00</text>
<rect x="638.4" y="470.4" width="1.4" height="2.4" fill="#666"/>
<text x="638.3" y="479.5" font-size="7.2" fill="#161616" text-anchor="start" textLength="36.5" lengthAdjust="spacingAndGlyphs" stroke="#161616" stroke-width="0.12">17 Oct 00:00</text>
<rect x="682.7" y="470.4" width="1.4" height="2.4" fill="#666"/>
<text x="682.6" y="479.5" font-size="7.2" fill="#161616" text-anchor="start" textLength="36.5" lengthAdjust="spacingAndGlyphs" stroke="#161616" stroke-width="0.12">24 Oct 08:00</text>
<rect x="727.0" y="470.4" width="1.4" height="2.4" fill="#666"/>
<text x="726.9" y="479.5" font-size="7.2" fill="#161616" text-anchor="start" textLength="36.5" lengthAdjust="spacingAndGlyphs" stroke="#161616" stroke-width="0.12">31 Oct 16:00</text>
</svg>
</body></html>
